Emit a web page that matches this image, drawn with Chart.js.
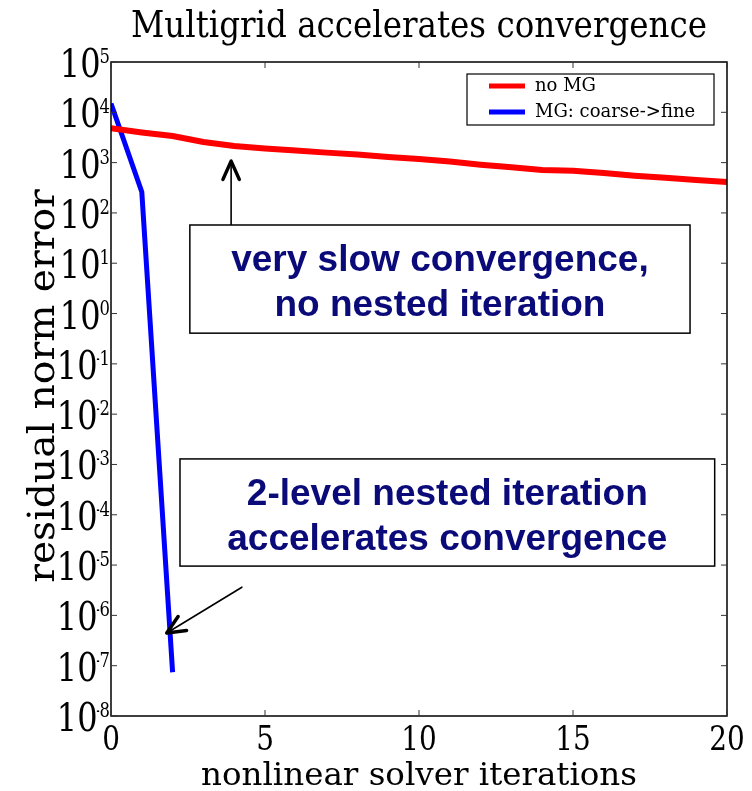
<!DOCTYPE html>
<html>
<head>
<meta charset="utf-8">
<script src="https://cdn.jsdelivr.net/npm/chart.js@4/dist/chart.umd.min.js"></script>
<style>
body{margin:0;background:#fff;}
#wrap{width:752px;height:791px;}
</style>
</head>
<body>
<div id="wrap"><canvas id="myChart" width="752" height="791"></canvas></div>
<script>
// residual norm per nonlinear iteration
var iterations=[0,1,2,3,4,5,6,7,8,9,10,11,12,13,14,15,16,17,18,19,20];
var noMG=[4800,3980,3390,2570,2140,1900,1740,1580,1450,1290,1175,1050,910,810,710,690,620,550,500,450,410];
var mgIterations=[0,1,2];
var mgCoarseFine=[15000,260,7.4e-8];
var xTicks=[0,5,10,15,20];
var yExponents=[-8,-7,-6,-5,-4,-3,-2,-1,0,1,2,3,4,5];

var serif="'DejaVu Serif',serif";
var sans="'Liberation Sans',Arial,sans-serif";
var navy='#0a0a78';

function pts(xs,ys){
  return xs.map(function(x,i){return {x:x,y:ys[i]};});
}

// text drawn with a horizontal stretch factor
function sText(c,txt,x,y,font,sx,align){
  c.save();
  c.font=font;
  var w=c.measureText(txt).width*sx;
  var left=align==='center'?x-w/2:(align==='right'?x-w:x);
  c.translate(left,y);
  c.scale(sx,1);
  c.textAlign='left';
  c.fillText(txt,0,0);
  c.restore();
  return w;
}
function sWidth(c,txt,font,sx){
  c.save();c.font=font;var w=c.measureText(txt).width*sx;c.restore();return w;
}

// frame, ticks, labels, legend, boxed notes and arrows
var extras={
  id:'extras',
  afterDraw:function(chart){
    var c=chart.ctx,a=chart.chartArea;
    var xs=chart.scales.x,ys=chart.scales.y;
    var midX=(a.left+a.right)/2;
    c.save();
    c.fillStyle='#000';
    c.textBaseline='alphabetic';

    // title and axis titles
    sText(c,'Multigrid accelerates convergence',midX,37,'37px '+serif,0.88,'center');
    sText(c,'nonlinear solver iterations',midX,785,'32.5px '+serif,1,'center');
    c.save();
    c.translate(54,386);
    c.rotate(-Math.PI/2);
    sText(c,'residual norm error',0,0,'37px '+serif,1.06,'center');
    c.restore();

    // frame
    c.strokeStyle='#000';
    c.lineWidth=1.5;
    c.strokeRect(a.left,a.top,a.right-a.left,a.bottom-a.top);
    c.lineWidth=1;
    c.strokeStyle='#333';

    // y ticks: 10 with raised exponent
    var baseFont='40px '+serif,expFont='20px '+serif;
    yExponents.forEach(function(e){
      var py=ys.getPixelForValue(Math.pow(10,e));
      c.beginPath();
      c.moveTo(a.left,py);c.lineTo(a.left+6,py);
      c.moveTo(a.right,py);c.lineTo(a.right-6,py);
      c.stroke();
      var digits=String(Math.abs(e));
      var right=a.left-1;
      var dw=sWidth(c,digits,expFont,0.82);
      var start=right-dw;
      sText(c,digits,start,py+1,expFont,0.82,'left');
      if(e<0){
        var hw=sWidth(c,'-',expFont,0.45);
        start-=hw;
        sText(c,'-',start,py+1,expFont,0.45,'left');
      }
      sText(c,'10',start+1,py+15,baseFont,0.8,'right');
    });

    // x ticks
    xTicks.forEach(function(v){
      var px=xs.getPixelForValue(v);
      c.beginPath();
      c.moveTo(px,a.bottom);c.lineTo(px,a.bottom-6);
      c.moveTo(px,a.top);c.lineTo(px,a.top+6);
      c.stroke();
      sText(c,String(v),px,750,'34px '+serif,0.82,'center');
    });

    // legend
    var lx=a.right-260,ly=a.top+12,lw=247,lh=51;
    c.fillStyle='#fff';
    c.fillRect(lx,ly,lw,lh);
    c.strokeStyle='#000';
    c.lineWidth=1.2;
    c.strokeRect(lx,ly,lw,lh);
    c.font='18px '+serif;
    c.textBaseline='middle';
    chart.data.datasets.forEach(function(ds,i){
      var yy=ly+12+i*26;
      c.strokeStyle=ds.borderColor;
      c.lineWidth=5;
      c.beginPath();c.moveTo(lx+22,yy);c.lineTo(lx+58,yy);c.stroke();
      c.fillStyle='#000';
      c.fillText(ds.label,lx+68,yy);
    });
    c.textBaseline='alphabetic';

    // boxed notes
    var notes=[
      {x0:2.56,x1:18.8,e0:1.76,e1:-0.39,lines:['very slow convergence,','no nested iteration']},
      {x0:2.24,x1:19.6,e0:-2.89,e1:-5.02,lines:['2-level nested iteration','accelerates convergence']}
    ];
    notes.forEach(function(n){
      var x0=xs.getPixelForValue(n.x0),x1=xs.getPixelForValue(n.x1);
      var y0=ys.getPixelForValue(Math.pow(10,n.e0)),y1=ys.getPixelForValue(Math.pow(10,n.e1));
      c.fillStyle='#fff';
      c.fillRect(x0,y0,x1-x0,y1-y0);
      c.strokeStyle='#000';
      c.lineWidth=1.5;
      c.strokeRect(x0,y0,x1-x0,y1-y0);
      c.fillStyle=navy;
      var cx=(x0+x1)/2;
      sText(c,n.lines[0],cx,y0+46,'bold 37px '+sans,1,'center');
      sText(c,n.lines[1],cx,y0+91,'bold 37px '+sans,1,'center');
    });

    // arrows
    var arrows=[
      {x0:3.9,e0:1.76,x1:3.9,e1:3.03},
      {x0:4.25,e0:-5.44,x1:1.81,e1:-6.35}
    ];
    arrows.forEach(function(r){
      var px0=xs.getPixelForValue(r.x0),py0=ys.getPixelForValue(Math.pow(10,r.e0));
      var px1=xs.getPixelForValue(r.x1),py1=ys.getPixelForValue(Math.pow(10,r.e1));
      var ang=Math.atan2(py1-py0,px1-px0),h=20,s=0.42;
      c.strokeStyle='#000';
      c.lineWidth=1.6;
      c.beginPath();c.moveTo(px0,py0);c.lineTo(px1,py1);c.stroke();
      c.lineWidth=3.5;
      c.lineCap='round';
      c.lineJoin='round';
      c.beginPath();
      c.moveTo(px1-h*Math.cos(ang-s),py1-h*Math.sin(ang-s));
      c.lineTo(px1,py1);
      c.lineTo(px1-h*Math.cos(ang+s),py1-h*Math.sin(ang+s));
      c.stroke();
    });
    c.restore();
  }
};

var ctx=document.getElementById('myChart').getContext('2d');
var chart=new Chart(ctx,{
  type:'line',
  data:{
    datasets:[
      {label:'no MG',data:pts(iterations,noMG),borderColor:'#ff0000',borderWidth:6,pointRadius:0,tension:0},
      {label:'MG: coarse->fine',data:pts(mgIterations,mgCoarseFine),borderColor:'#0000ff',borderWidth:5,pointRadius:0,tension:0}
    ]
  },
  options:{
    responsive:false,
    animation:false,
    layout:{padding:{top:62,right:25,left:111,bottom:75}},
    plugins:{
      legend:{display:false},
      tooltip:{enabled:false},
      title:{display:false}
    },
    scales:{
      x:{
        type:'linear',
        min:0,max:20,
        afterBuildTicks:function(axis){axis.ticks=xTicks.map(function(v){return {value:v};});},
        grid:{display:false,drawTicks:false},
        border:{display:false},
        ticks:{display:false}
      },
      y:{
        type:'logarithmic',
        min:1e-8,max:1e5,
        afterBuildTicks:function(axis){axis.ticks=yExponents.map(function(e){return {value:Math.pow(10,e)};});},
        grid:{display:false,drawTicks:false},
        border:{display:false},
        ticks:{display:false}
      }
    }
  },
  plugins:[extras]
});
</script>
</body>
</html>
